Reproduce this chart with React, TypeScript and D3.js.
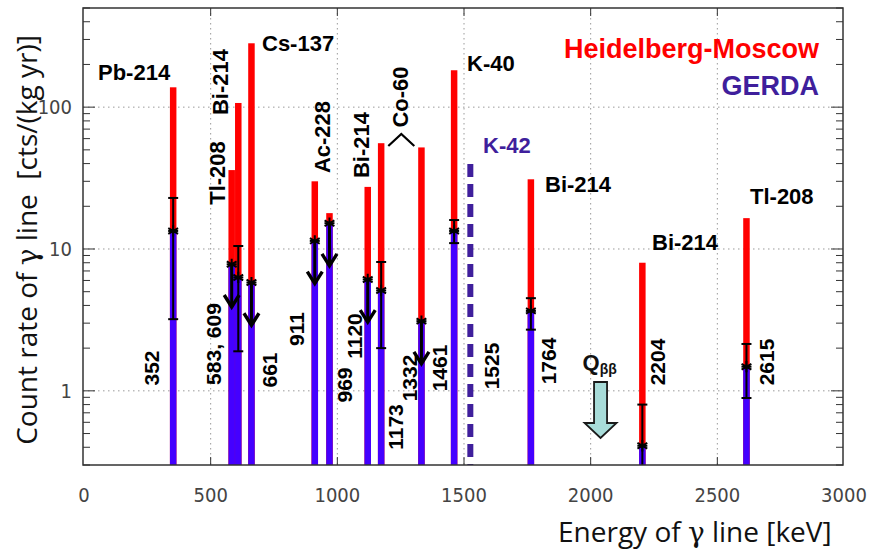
import React from 'react';
import * as d3 from 'd3';

// gamma lines seen by both experiments (keV)
const energies = [352, 583, 609, 661, 911, 969, 1120, 1173, 1332, 1461, 1764, 2204, 2615];
// Heidelberg-Moscow count rates, cts/(kg yr)
const hdmRates = [138, 36, 107, 282, 30, 17.9, 27.4, 55.7, 52, 182, 31, 8.0, 16.5];
// GERDA count rates (or upper limits)
const gerdaRates = [13.4, 7.8, 6.3, 5.8, 11.4, 15.2, 6.1, 5.1, 3.1, 13.4, 3.66, 0.41, 1.48];
const gerdaLow = [3.2, 0, 1.9, 0, 0, 0, 0, 2.0, 0, 11, 2.7, 0.2, 0.89];
const gerdaHigh = [22.9, 0, 10.5, 0, 0, 0, 0, 8.1, 0, 16, 4.5, 0.8, 2.14];
const gerdaIsLimit = [false, true, false, true, true, true, true, false, true, false, false, false, false];
const energyLabels = ['352', '583, 609', '661', '911', '969', '1120', '1173', '1332', '1461', '1525', '1764', '2204', '2615'];
const energyLabelAt = [352, 583, 661, 911, 969, 1120, 1173, 1332, 1461, 1525, 1764, 2204, 2615];

// K-42 line, GERDA only
const k42Energy = 1525;
const k42Rate = 39.7;
const qbbEnergy = 2039;

const xTicks = [0, 500, 1000, 1500, 2000, 2500, 3000];
const yTicks = [1, 10, 100];

const W = 869;
const H = 551;
const left = 83, right = 843, top = 8, bottom = 465;

const x = d3.scaleLinear().domain([0, 3000]).range([84, 844]);
const y = d3.scaleLog().domain([0.3, 500]).range([bottom, top]);

const RED = '#ff0000';
const BLUE = '#4400ff';
const PURPLE = '#3f1f9c';
const LABEL_FONT = 'Arial, "Liberation Sans", sans-serif';
const TICK_FONT = '"Liberation Sans Narrow", "DejaVu Sans Condensed", "Roboto Condensed", sans-serif';
const TITLE_FONT = '"Open Sans", "Noto Sans", sans-serif';
const GREEK = '"DejaVu Serif", "Liberation Serif", serif';

// label offsets (px) from the line position, and y centre
const energyLabelDx = [-22, -18, 18.5, -18, 15.5, -13, 14, -11.5, -14, 21, 18, 15, 20];
const energyLabelY = [368, 344, 370, 329, 385, 336, 427, 378, 368, 366, 361, 362, 362];

const asterisk = d3.symbol(d3.symbolAsterisk, 90);

function minorTicks(): number[] {
  const out: number[] = [];
  for (let d = 0.1; d <= 100; d *= 10) {
    for (let k = 1; k <= 9; k++) {
      const v = +(d * k).toPrecision(3);
      if (v >= 0.3 && v <= 500) out.push(v);
    }
  }
  return out;
}

export default function App() {
  const barW = 6.5;
  const minors = minorTicks();
  const qx = x(qbbEnergy);
  const coMid = (x(1173) + x(1332)) / 2;

  return (
    <svg width={W} height={H} style={{ position: 'absolute', left: 0, top: 0, background: '#fff' }}>
      {/* grid */}
      <g stroke="#9a9a9a" strokeWidth={1} strokeDasharray="1.5,3.5">
        {xTicks.slice(1, -1).map(t => (
          <line key={'gx' + t} x1={x(t)} x2={x(t)} y1={top} y2={bottom} />
        ))}
        {yTicks.map(t => (
          <line key={'gy' + t} x1={left} x2={right} y1={y(t)} y2={y(t)} />
        ))}
      </g>

      {/* HdM bars */}
      {energies.map((e, i) => (
        <rect key={'r' + e} x={x(e) - barW / 2} width={barW} y={y(hdmRates[i])}
          height={bottom - y(hdmRates[i])} fill={RED} />
      ))}
      {/* GERDA bars */}
      {energies.map((e, i) => (
        <rect key={'b' + e} x={x(e) - barW / 2} width={barW} y={y(gerdaRates[i])}
          height={bottom - y(gerdaRates[i])} fill={BLUE} />
      ))}
      {/* K-42 dashed */}
      <line x1={x(k42Energy)} x2={x(k42Energy)} y1={y(k42Rate)} y2={bottom}
        stroke={PURPLE} strokeWidth={6} strokeDasharray="13,7" />

      {/* error bars and limits */}
      {energies.map((e, i) => {
        const cx = x(e);
        const cy = y(gerdaRates[i]);
        if (gerdaIsLimit[i]) {
          const y2 = y(gerdaRates[i] * 0.5);
          return (
            <g key={'l' + e} stroke="#000" fill="none">
              <line x1={cx} x2={cx} y1={cy} y2={y2} strokeWidth={3} />
              <path d={`M${cx - 7.5},${y2 - 12}L${cx},${y2}L${cx + 7.5},${y2 - 12}`} strokeWidth={3.4} />
              <line x1={cx - 5} x2={cx + 5} y1={cy} y2={cy} strokeWidth={2} />
              <path d={asterisk() as string} transform={`translate(${cx},${cy})`} strokeWidth={2} />
            </g>
          );
        }
        const yl = Math.min(y(gerdaLow[i]), bottom);
        const yh = y(gerdaHigh[i]);
        return (
          <g key={'e' + e} stroke="#000" fill="none">
            <line x1={cx} x2={cx} y1={yh} y2={yl} strokeWidth={2} />
            <line x1={cx - 5} x2={cx + 5} y1={yh} y2={yh} strokeWidth={2} />
            {yl < bottom && <line x1={cx - 5} x2={cx + 5} y1={yl} y2={yl} strokeWidth={2} />}
            <line x1={cx - 5} x2={cx + 5} y1={cy} y2={cy} strokeWidth={2} />
            <path d={asterisk() as string} transform={`translate(${cx},${cy})`} strokeWidth={2} />
          </g>
        );
      })}

      {/* frame */}
      <rect x={left} y={top} width={right - left} height={bottom - top} fill="none" stroke="#333" strokeWidth={1.5} />

      {/* ticks */}
      <g stroke="#333" strokeWidth={1}>
        {minors.map(v => {
          const len = yTicks.includes(v) ? 12 : 7;
          return (
            <g key={'yt' + v}>
              <line x1={left} x2={left + len} y1={y(v)} y2={y(v)} />
              <line x1={right - len} x2={right} y1={y(v)} y2={y(v)} />
            </g>
          );
        })}
        {xTicks.slice(1, -1).map(t => (
          <g key={'xt' + t}>
            <line x1={x(t)} x2={x(t)} y1={bottom} y2={bottom - 8} />
            <line x1={x(t)} x2={x(t)} y1={top} y2={top + 8} />
          </g>
        ))}
      </g>

      {/* tick labels */}
      <g fontFamily={TICK_FONT} fontSize={20} fill="#444">
        {yTicks.map(t => (
          <text key={'yl' + t} x={72} y={y(t)} dy="0.35em" textAnchor="end">{t}</text>
        ))}
        {xTicks.map(t => (
          <text key={'xl' + t} x={x(t)} y={502} textAnchor="middle">{t}</text>
        ))}
      </g>

      {/* axis titles */}
      <text transform="translate(37,240) rotate(-90)" textAnchor="middle" fontFamily={TITLE_FONT}
        fontSize={28} fill="#111" style={{ whiteSpace: 'pre' }}>
        Count rate of <tspan fontFamily={GREEK}>γ</tspan> line  [cts/(kg yr)]
      </text>
      <text x={558} y={542} fontFamily={TITLE_FONT} fontSize={28} fill="#111">
        Energy of <tspan fontFamily={GREEK}>γ</tspan> line [keV]
      </text>

      {/* energy labels */}
      <g fontFamily={LABEL_FONT} fontWeight="bold" fontSize={21} fill="#000">
        {energyLabels.map((s, i) => (
          <text key={'el' + i} textAnchor="middle" dy="0.35em"
            transform={`translate(${x(energyLabelAt[i]) + energyLabelDx[i]},${energyLabelY[i]}) rotate(-90)`}>{s}</text>
        ))}
      </g>

      {/* isotope labels */}
      <g fontFamily={LABEL_FONT} fontWeight="bold" fontSize={22} fill="#000">
        <text x={98} y={80}>Pb-214</text>
        <text textAnchor="middle" dy="0.35em" transform="translate(217,173) rotate(-90)">Tl-208</text>
        <text textAnchor="middle" dy="0.35em" transform="translate(220,82) rotate(-90)">Bi-214</text>
        <text x={262} y={51}>Cs-137</text>
        <text textAnchor="middle" dy="0.35em" transform="translate(322,137) rotate(-90)">Ac-228</text>
        <text textAnchor="middle" dy="0.35em" transform="translate(361,145) rotate(-90)">Bi-214</text>
        <text textAnchor="middle" dy="0.35em" transform="translate(400,97) rotate(-90)">Co-60</text>
        <text x={467} y={71}>K-40</text>
        <text x={483} y={153} fill={PURPLE}>K-42</text>
        <text x={545} y={192}>Bi-214</text>
        <text x={652} y={250}>Bi-214</text>
        <text x={750} y={204}>Tl-208</text>
      </g>
      <path d={`M${coMid - 13},146L${coMid},134L${coMid + 13},146`}
        stroke="#000" strokeWidth={2.2} fill="none" />

      {/* Q bb */}
      <text x={qx - 18} y={370} fontFamily={LABEL_FONT} fontWeight="bold" fontSize={22} fill="#111">
        Q<tspan fontSize={14} dy={4}>ββ</tspan>
      </text>
      <path d={`M${qx - 6.5},382L${qx + 6.5},382L${qx + 6.5},423L${qx + 16},423L${qx},438L${qx - 16},423L${qx - 6.5},423Z`}
        fill="#a8dcd9" stroke="#1a1a1a" strokeWidth={1.8} />

      {/* legend */}
      <g fontFamily={LABEL_FONT} fontWeight="bold" fontSize={27} textAnchor="end">
        <text x={819} y={58} fill={RED}>Heidelberg-Moscow</text>
        <text x={819} y={95} fill={PURPLE}>GERDA</text>
      </g>
    </svg>
  );
}
